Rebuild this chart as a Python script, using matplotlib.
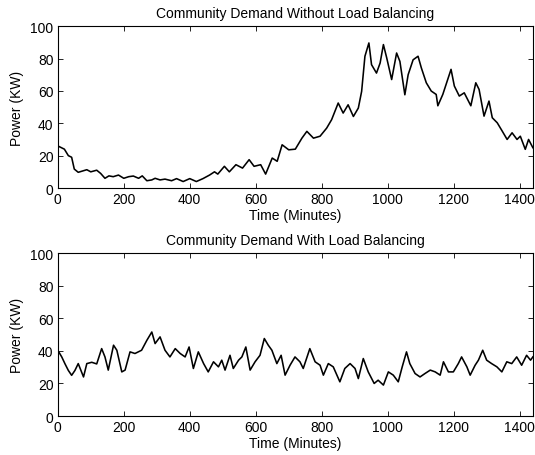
import matplotlib
matplotlib.use("Agg")
import matplotlib.pyplot as plt

plt.rcParams['font.family'] = ['Liberation Sans', 'DejaVu Sans']

# Community demand without load balancing (minutes, kW)
t_without = [0, 10, 20, 32, 42, 50, 62, 75, 88, 100, 118, 130, 143, 155, 168, 184,
             200, 215, 229, 245, 256, 270, 285, 295, 310, 325, 345, 360, 380, 400,
             420, 440, 460, 475, 485, 505, 520, 540, 560, 580, 595, 615, 630, 650,
             665, 680, 700, 720, 740, 755, 775, 795, 815, 830, 850, 865, 880, 896,
             911, 921, 931, 943, 951, 966, 977, 987, 997, 1012, 1027, 1037, 1052,
             1062, 1077, 1092, 1102, 1117, 1132, 1147, 1152, 1167, 1177, 1192, 1202,
             1217, 1232, 1252, 1267, 1277, 1292, 1307, 1317, 1332, 1347, 1362, 1377,
             1392, 1402, 1417, 1427, 1440]
p_without = [26, 25, 24, 20, 19, 11.7, 9.7, 10.5, 11.3, 10, 11, 9, 6, 7.5, 7, 8,
             6, 7, 7.4, 6, 7.5, 4.5, 5, 6, 5, 5.5, 4.5, 5.8, 4, 5.8,
             4, 5.8, 8, 10, 8.6, 13.4, 10, 14.4, 12.3, 17.5, 13.4, 14.4, 8.6, 18.5,
             16.5, 26.7, 23.6, 24, 30.8, 35, 30.8, 32, 37, 42.2, 52.5, 46.3, 51.4, 44.2,
             49.4, 59.7, 81.4, 89.6, 76.2, 71, 77.2, 88.6, 80.4, 67, 83.4, 78.2, 57.6,
             70, 79.2, 81.4, 74.2, 65, 59.9, 57.8, 50.8, 57.8, 64, 73.3, 63,
             56.8, 58.8, 50.8, 65, 60.9, 44.4, 53.7, 43.4, 40.3, 35.2, 30, 34.1,
             30, 32, 23.9, 30, 24.9]

# Community demand with load balancing (minutes, kW)
t_with = [0, 12, 22, 32, 42, 52, 62, 78, 88, 103, 118, 133, 143, 153, 169, 179,
          194, 204, 219, 234, 254, 270, 285, 295, 310, 325, 340, 356, 371, 386,
          398, 411, 426, 442, 456, 472, 487, 497, 507, 522, 532, 548, 558, 570,
          583, 598, 613, 626, 638, 649, 664, 677, 689, 704, 719, 734, 744, 764,
          780, 795, 805, 820, 835, 855, 870, 886, 901, 911, 926, 941, 959, 971,
          987, 1002, 1017, 1032, 1044, 1057, 1067, 1083, 1098, 1113, 1129, 1144,
          1159, 1169, 1184, 1199, 1214, 1224, 1240, 1250, 1265, 1275, 1288, 1300,
          1315, 1331, 1346, 1361, 1376, 1391, 1406, 1421, 1433, 1440]
p_with = [40.4, 36.3, 32, 28, 25, 28, 32.2, 24, 32.2, 33, 32, 41.4, 36.3, 28.2, 43.5, 40.4,
          27.1, 28.2, 39.4, 38.4, 40.4, 46.5, 51.6, 44.5, 48.6, 40.4, 36.3, 41.4, 38.4, 36.3,
          42.4, 29.2, 39.4, 32.2, 27.1, 33.3, 30.2, 34.3, 28.2, 37.3, 29.2, 34.3, 36.3, 42.4,
          28.2, 33.3, 37.3, 47.6, 43.5, 40.4, 32.2, 37.3, 25.1, 31.2, 36.3, 33.3, 29.2, 41.4,
          33.3, 31.2, 25.1, 32.2, 30.2, 21, 29.2, 32.2, 29.2, 23, 35.3, 27.1, 20, 22,
          19, 27.1, 25.1, 21, 30.2, 39.4, 32.2, 26.1, 24, 26.1, 28.2, 27.1,
          25.1, 33.3, 27.1, 27.1, 32.2, 36.3, 30.2, 25.1, 31.2, 34.3, 40.4, 34.3,
          32.2, 30.2, 27.1, 33.3, 32.2, 36.3, 31.2, 37.3, 34.3, 36.3]

titles = ["Community Demand Without Load Balancing", "Community Demand With Load Balancing"]
xticks = [0, 200, 400, 600, 800, 1000, 1200, 1400]
yticks = [0, 20, 40, 60, 80, 100]

fig = plt.figure(figsize=(5.35, 4.56), dpi=100)
ax1 = fig.add_axes([0.108, 0.5855, 0.888, 0.355])
ax2 = fig.add_axes([0.108, 0.0855, 0.888, 0.357])

for ax, t, p, title in [(ax1, t_without, p_without, titles[0]),
                        (ax2, t_with, p_with, titles[1])]:
    ax.plot(t, p, color='black', lw=1.15)
    ax.set_xlim(0, 1440)
    ax.set_ylim(0, 100)
    ax.set_xticks(xticks)
    ax.set_yticks(yticks)
    ax.tick_params(direction='in', top=True, right=True, length=3.6, width=0.6,
                   labelsize=10, pad=3)
    for s in ax.spines.values():
        s.set_linewidth(0.8)
    ax.set_title(title, fontsize=10, pad=6.5)
    ax.set_xlabel("Time (Minutes)", fontsize=10, labelpad=1)
    ax.set_ylabel("Power (KW)", fontsize=10, labelpad=5)

fig.savefig("out.png", dpi=100)
